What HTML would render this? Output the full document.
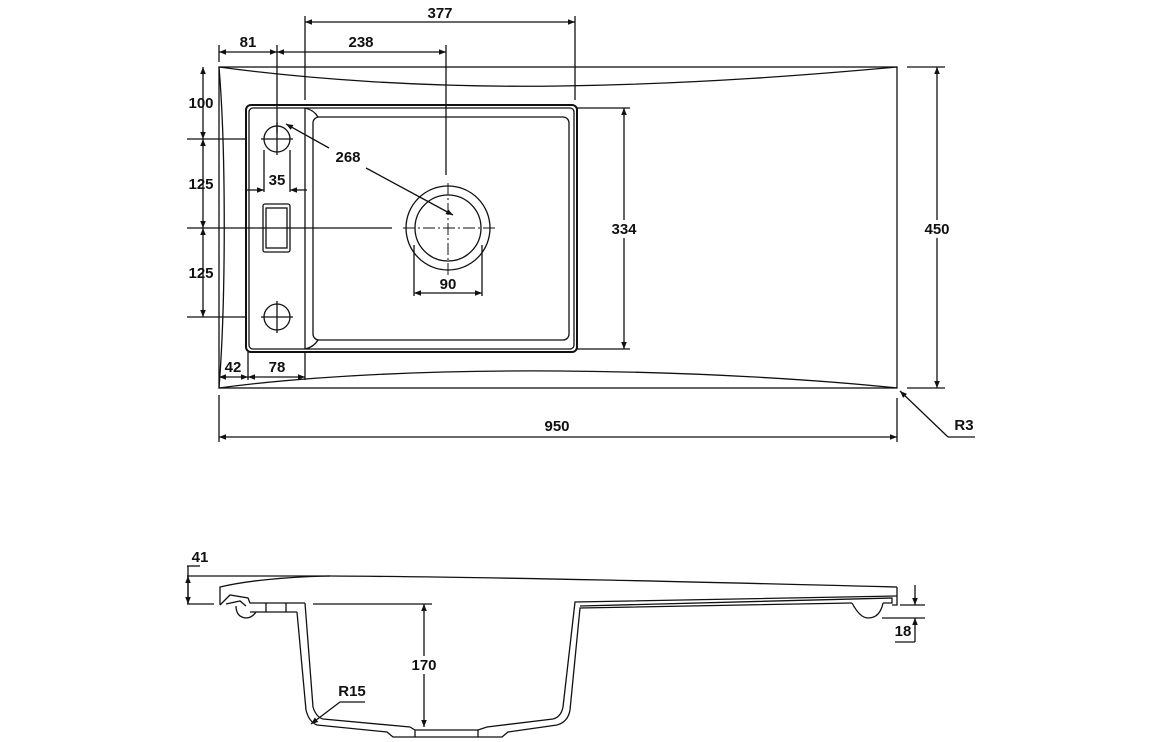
<!DOCTYPE html>
<html><head><meta charset="utf-8"><style>
html,body{margin:0;padding:0;background:#fff}
svg{display:block}
text{font-family:"Liberation Sans",sans-serif;font-weight:bold;font-size:15px;fill:#111}
</style></head><body>
<svg width="1156" height="742" viewBox="0 0 1156 742" xmlns="http://www.w3.org/2000/svg">
<defs>
<marker id="a" viewBox="0 0 10 10" refX="10" refY="5" markerWidth="9" markerHeight="7" orient="auto-start-reverse" markerUnits="userSpaceOnUse"><path d="M0,1 L10,5 L0,9z" fill="#111"/></marker>
</defs>
<g stroke="#111" fill="none" stroke-width="1.3">
<rect x="219" y="67" width="678" height="321"/>
<path d="M219,67 C300,78 420,88 560,86 C700,84 820,74 897,67"/>
<path d="M219,388 C300,377 420,370 560,371 C700,372 820,380 897,388"/>
<path d="M219,67 C226,150 226,300 219,388"/>
<rect x="246" y="105" width="331" height="247" rx="5" stroke-width="2"/>
<rect x="249" y="108" width="325" height="241" rx="4"/>
<path d="M305,108 L305,349"/>
<path d="M305,108 Q314,110 318,117 M305,349 Q314,347 318,340"/>
<rect x="313" y="117" width="256" height="223" rx="6"/>
<circle cx="277" cy="139" r="13"/><circle cx="277" cy="317" r="13"/>
<path d="M261,139h32M277,123v32M261,317h32M277,301v32"/>
<rect x="263" y="204" width="27" height="48" rx="2"/>
<rect x="266" y="208" width="21" height="40"/>
<circle cx="448" cy="228" r="42"/><circle cx="448" cy="228" r="33"/>
<path d="M403,228h92M448,183v92" stroke-dasharray="12,3,2,3" stroke-width="1"/>
<path d="M305,100V16M575,100V16"/>
<path d="M305,22H575" marker-start="url(#a)" marker-end="url(#a)"/>
<path d="M219,62V45M277,133V45M446,175V45"/>
<path d="M219,52H277" marker-start="url(#a)" marker-end="url(#a)"/>
<path d="M277,52H446" marker-start="url(#a)" marker-end="url(#a)"/>
<path d="M187,139H246M187,228H392M187,317H246"/>
<path d="M203,67V139" marker-start="url(#a)" marker-end="url(#a)"/>
<path d="M203,139V228" marker-start="url(#a)" marker-end="url(#a)"/>
<path d="M203,228V317" marker-start="url(#a)" marker-end="url(#a)"/>
<path d="M264,150V192M290,150V192"/>
<path d="M247,190H264" marker-end="url(#a)"/><path d="M307,190H290" marker-end="url(#a)"/>
<path d="M248,352V380M305,352V380"/>
<path d="M219,377H248" marker-start="url(#a)" marker-end="url(#a)"/>
<path d="M248,377H305" marker-start="url(#a)" marker-end="url(#a)"/>
<path d="M414,245V296M482,245V296"/>
<path d="M414,293H482" marker-start="url(#a)" marker-end="url(#a)"/>
<path d="M329,148L286,124" marker-end="url(#a)"/>
<path d="M366,168L453,215" marker-end="url(#a)"/>
<path d="M577,108H630M577,349H630"/>
<path d="M624,108V349" marker-start="url(#a)" marker-end="url(#a)"/>
<path d="M907,67H945M907,388H945"/>
<path d="M937,67V388" marker-start="url(#a)" marker-end="url(#a)"/>
<path d="M219,395V442M897,398V442"/>
<path d="M219,437H897" marker-start="url(#a)" marker-end="url(#a)"/>
<path d="M948,437L900,391" marker-end="url(#a)"/><path d="M948,437H975"/>
<!-- side view -->
<path d="M187,576H330 C500,577 700,582 897,587"/>
<path d="M220,605V587 C250,580 285,577 330,576"/>
<path d="M897,587V605H892"/>
<path d="M220,605 L230,595 L248,598 L250,603 L305,603"/>
<path d="M226,604 L240,601 L246,606"/>
<path d="M236,606 Q236,617 246,618 Q252,618 256,612"/>
<path d="M250,612H297M266,603V612M286,603V612"/>
<path d="M297,612 L306,710 Q309,722 317,725 L387,732 L393,737 L502,737 L508,732 L557,725 Q568,722 570,710 L580,608 L852,603"/>
<path d="M305,603 L313,707 Q316,717 323,719 L410,727 L415,730 L478,730 L487,727 L553,719 Q561,717 563,707 L575,602 L897,596"/>
<path d="M415,730V737M478,730V737"/>
<path d="M883,603 L892,603 L892,598 L580,606"/>
<path d="M852,603 Q860,618 868,618 Q880,618 883,603"/>
<path d="M187,604H214M313,604H432"/>
<path d="M187,566H200"/>
<path d="M188,566V604"/>
<path d="M188,590V576" marker-end="url(#a)"/><path d="M188,590V604" marker-end="url(#a)"/>
<path d="M424,604V727" marker-start="url(#a)" marker-end="url(#a)"/>
<path d="M900,605H925M882,618H925M895,642H915"/>
<path d="M915,585V605" marker-end="url(#a)"/><path d="M915,642V618" marker-end="url(#a)"/>
<path d="M365,702H340L311,724" marker-end="url(#a)"/>
</g>
<g>
<text x="440" y="18" text-anchor="middle">377</text>
<text x="248" y="47" text-anchor="middle">81</text>
<text x="361" y="47" text-anchor="middle">238</text>
<text x="201" y="108" text-anchor="middle">100</text>
<text x="201" y="189" text-anchor="middle">125</text>
<text x="201" y="278" text-anchor="middle">125</text>
<text x="277" y="185" text-anchor="middle">35</text>
<text x="348" y="162" text-anchor="middle">268</text>
<text x="448" y="289" text-anchor="middle">90</text>
<text x="233" y="372" text-anchor="middle">42</text>
<text x="277" y="372" text-anchor="middle">78</text>
<text x="624" y="234" text-anchor="middle" style="paint-order:stroke;stroke:#fff;stroke-width:8px">334</text>
<text x="937" y="234" text-anchor="middle" style="paint-order:stroke;stroke:#fff;stroke-width:8px">450</text>
<text x="557" y="431" text-anchor="middle">950</text>
<text x="964" y="430" text-anchor="middle">R3</text>
<text x="200" y="562" text-anchor="middle">41</text>
<text x="424" y="670" text-anchor="middle" style="paint-order:stroke;stroke:#fff;stroke-width:8px">170</text>
<text x="352" y="696" text-anchor="middle">R15</text>
<text x="903" y="636" text-anchor="middle">18</text>
</g>
</svg>
</body></html>
